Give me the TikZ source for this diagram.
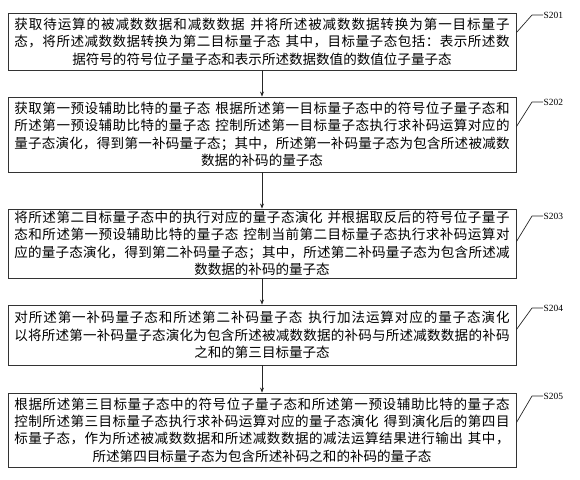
\documentclass[tikz,border=0pt]{standalone}
\usepackage{fontspec}
\setmainfont{Liberation Serif}
\newfontfamily\cjk{Noto Sans CJK SC}
\usetikzlibrary{arrows.meta,calc}
\newlength\tw \setlength\tw{497pt}
\makeatletter
\def\jl#1{\hbox to\tw{\jl@#1\@nil}}
\def\jl@#1#2{#1\ifx\@nil#2\else\hskip0pt plus1fil\expandafter\jl@\expandafter#2\fi}
\makeatother
\newcommand\cl[1]{\hbox to \tw{\hfil#1\hfil}}
\newcommand\gp{\hspace{0.3em}}
\newcommand\bt[1]{\vbox{\cjk\fontsize{13.6}{17.5}\selectfont\baselineskip=17.5pt #1}}
\begin{document}
\begin{tikzpicture}[x=1bp,y=-1bp,
  box/.style={draw=black!80,line width=0.9pt,minimum width=508bp,inner sep=0pt,anchor=center},
  lab/.style={font=\fontsize{9.5}{10}\selectfont,anchor=west,inner sep=0.5pt},
  lead/.style={line width=0.7pt,draw=black!85},
  flow/.style={line width=0.7pt,draw=black!85,-{Stealth[length=5pt,width=4pt]}}]
\useasboundingbox (0,0) rectangle (580,480);
\node[box,minimum height=57bp] (b1) at (262,41.5) {\bt{%
\jl{获取待运算的被减数数据和减数数据\gp 并将所述被减数数据转换为第一目标量子}%
\jl{态，将所述减数数据转换为第二目标量子态\gp 其中，目标量子态包括：表示所述数}%
\cl{据符号的符号位子量子态和表示所述数据数值的数值位子量子态}}};
\node[box,minimum height=75bp] (b2) at (262,134.5) {\bt{%
\jl{获取第一预设辅助比特的量子态\gp 根据所述第一目标量子态中的符号位子量子态和}%
\jl{所述第一预设辅助比特的量子态\gp 控制所述第一目标量子态执行求补码运算对应的}%
\jl{量子态演化，得到第一补码量子态；其中，所述第一补码量子态为包含所述被减数}%
\cl{数据的补码的量子态}}};
\node[box,minimum height=69bp] (b3) at (262,243.5) {\bt{%
\jl{将所述第二目标量子态中的执行对应的量子态演化\gp 并根据取反后的符号位子量子}%
\jl{态和所述第一预设辅助比特的量子态\gp 控制当前第二目标量子态执行求补码运算对}%
\jl{应的量子态演化，得到第二补码量子态；其中，所述第二补码量子态为包含所述减}%
\cl{数数据的补码的量子态}}};
\node[box,minimum height=60bp] (b4) at (262,335) {\bt{%
\jl{对所述第一补码量子态和所述第二补码量子态\gp 执行加法运算对应的量子态演化}%
\jl{以将所述第一补码量子态演化为包含所述被减数数据的补码与所述减数数据的补码}%
\cl{之和的第三目标量子态}}};
\node[box,minimum height=74bp] (b5) at (262,430) {\bt{%
\jl{根据所述第三目标量子态中的符号位子量子态和所述第一预设辅助比特的量子态}%
\jl{控制所述第三目标量子态执行求补码运算对应的量子态演化\gp 得到演化后的第四目}%
\jl{标量子态，作为所述被减数数据和所述减数数据的减法运算结果进行输出\gp 其中，}%
\cl{所述第四目标量子态为包含所述补码之和的补码的量子态}}};
\node[lab] (l1) at (543,15) {S201};
\node[lab] (l2) at (543,102) {S202};
\node[lab] (l3) at (543,216) {S203};
\node[lab] (l4) at (543,308) {S204};
\node[lab] (l5) at (543,396) {S205};
\draw[lead] ($(b1.north east)+(0,20)$) -- ($(l1.west)+(-11,0)$) -- (l1.west);
\draw[lead] ($(b2.north east)+(0,30)$) -- ($(l2.west)+(-11,0)$) -- (l2.west);
\draw[lead] ($(b3.north east)+(0,33)$) -- ($(l3.west)+(-11,0)$) -- (l3.west);
\draw[lead] ($(b4.north east)+(0,25)$) -- ($(l4.west)+(-11,0)$) -- (l4.west);
\draw[lead] ($(b5.north east)+(0,30)$) -- ($(l5.west)+(-11,0)$) -- (l5.west);
\draw[flow] (b1.south) -- (b2.north);
\draw[flow] (b2.south) -- (b3.north);
\draw[flow] (b3.south) -- (b4.north);
\draw[flow] (b4.south) -- (b5.north);
\end{tikzpicture}
\end{document}
